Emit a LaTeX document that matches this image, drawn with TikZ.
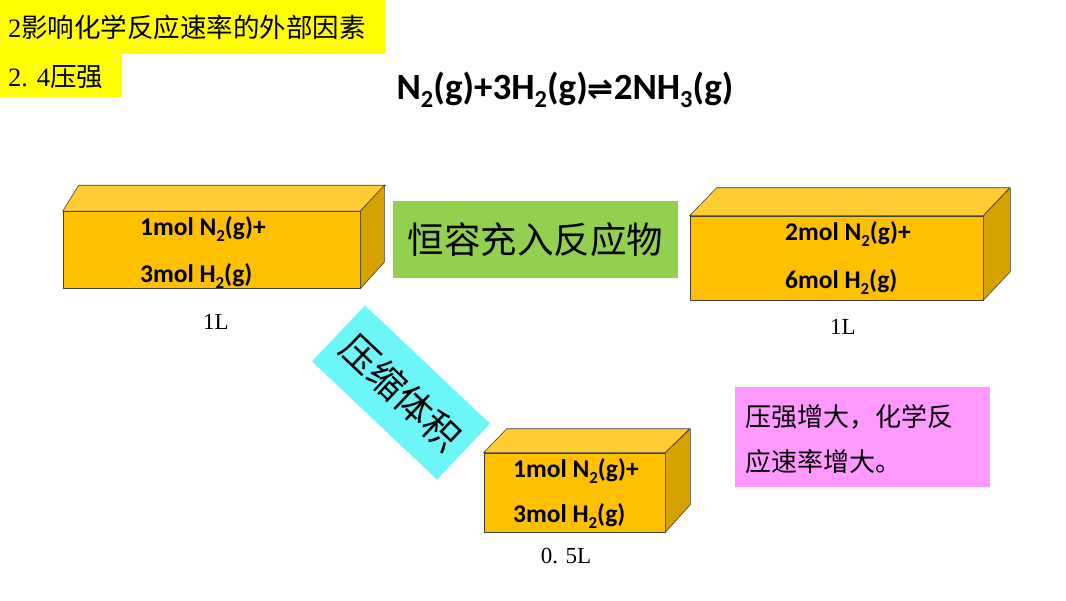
\documentclass[tikz,border=0pt]{standalone}
\usepackage{graphicx}
\usepackage{fontspec}
\setmainfont{Liberation Serif}
\newfontfamily\cjk{Noto Sans CJK SC}
\newfontfamily\calfont{Carlito}
\newfontfamily\dvfont{DejaVu Sans}
\newcommand{\chsub}[1]{\raisebox{-0.24em}{\scalebox{0.66}{#1}}}
\definecolor{banner}{HTML}{FFFF00}
\definecolor{frontc}{HTML}{FFC000}
\definecolor{topc}{HTML}{FFCC33}
\definecolor{sidec}{HTML}{D6A200}
\definecolor{greenc}{HTML}{92D050}
\definecolor{cyanc}{HTML}{6CF6F8}
\definecolor{pinkc}{HTML}{FF99FF}
\tikzset{
  face/.style={draw=black!75, line width=0.6pt, line join=round},
  front/.style={face, fill=frontc, rectangle, inner sep=0pt},
  boxtext/.style={anchor=base west, inner sep=0pt, font=\calfont\bfseries\fontsize{25.5}{28}\selectfont},
  vol/.style={inner sep=0pt, font=\fontsize{23}{26}\selectfont},
  cjkbox/.style={inner sep=0pt, font=\cjk},
}
\begin{document}
\begin{tikzpicture}[x=1pt,y=-1pt]
\useasboundingbox (0,0) rectangle (1066,600);
% banners
\fill[banner] (0,0) rectangle (385,54);
\fill[banner] (0,54) rectangle (122,97);
\node[anchor=west, inner sep=0pt, font=\fontsize{26.5}{30}\selectfont] (t1) at (8,27) {2{\cjk 影响化学反应速率的外部因素}};
\node[anchor=west, inner sep=0pt, font=\fontsize{26.5}{30}\selectfont] (t2) at (8,77) {2. 4{\cjk 压强}};
% equation
\node[anchor=base, inner sep=0pt, font=\calfont\bfseries\fontsize{37}{42}\selectfont] (eq) at (565,99)
  {N\chsub{2}(g)+3H\chsub{2}(g){\dvfont\fontsize{31}{34}\selectfont ⇌}2NH\chsub{3}(g)};
% box 1
\node[front, minimum width=297pt, minimum height=77pt] (b1) at (211.5,250) {};
\draw[face, fill=topc] (b1.north west) -- ++(16,-26) -- ++(307,0) -- (b1.north east) -- cycle;
\draw[face, fill=sidec] (b1.north east) -- ++(24,-26) -- ++(0,77) -- (b1.south east) -- cycle;
\node[boxtext] (b1a) at (140,235) {1mol N\chsub{2}(g)+};
\node[boxtext] (b1b) at (140,282) {3mol H\chsub{2}(g)};
\node[vol] (v1) at (216,322) {1L};
% box 2
\node[front, minimum width=293pt, minimum height=84pt] (b2) at (836.5,258) {};
\draw[face, fill=topc] (b2.north west) -- ++(27,-28) -- ++(293,0) -- (b2.north east) -- cycle;
\draw[face, fill=sidec] (b2.north east) -- ++(27,-28) -- ++(0,84) -- (b2.south east) -- cycle;
\node[boxtext] (b2a) at (785,240) {2mol N\chsub{2}(g)+};
\node[boxtext] (b2b) at (785,288) {6mol H\chsub{2}(g)};
\node[vol] (v2) at (843,327) {1L};
% box 3
\node[front, minimum width=181pt, minimum height=79pt] (b3) at (574.5,492.5) {};
\draw[face, fill=topc] (b3.north west) -- ++(23,-24) -- ++(183,0) -- (b3.north east) -- cycle;
\draw[face, fill=sidec] (b3.north east) -- ++(25,-24) -- ++(0,76) -- (b3.south east) -- cycle;
\node[boxtext] (b3a) at (513,477) {1mol N\chsub{2}(g)+};
\node[boxtext] (b3b) at (513,522) {3mol H\chsub{2}(g)};
\node[vol] (v3) at (566,556) {0. 5L};
% green
\node[cjkbox, fill=greenc, minimum width=285pt, minimum height=77pt, font=\cjk\fontsize{36.5}{40}\selectfont] (g) at (535.5,239.5) {恒容充入反应物};
% cyan rotated
\node[cjkbox, fill=cyanc, minimum width=172pt, minimum height=77pt, rotate=-43.4, font=\cjk\fontsize{37}{40}\selectfont] (c) at (401,392.5) {压缩体积};
% pink
\node[fill=pinkc, minimum width=255pt, minimum height=100pt, inner sep=0pt] (p) at (862.5,437) {};
\node[anchor=west, inner sep=0pt, font=\cjk\fontsize{26}{30}\selectfont] (p1) at (745,417) {压强增大，化学反};
\node[anchor=west, inner sep=0pt, font=\cjk\fontsize{26}{30}\selectfont] (p2) at (745,462) {应速率增大。};
\end{tikzpicture}
\end{document}
